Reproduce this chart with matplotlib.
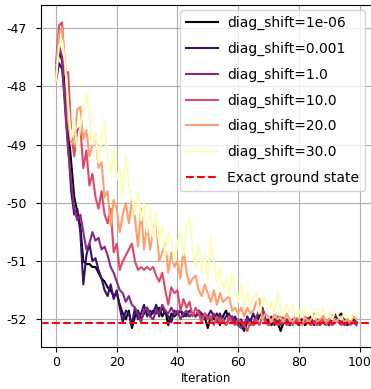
import numpy as np
import matplotlib.pyplot as plt

plt.rcParams["axes.unicode_minus"] = False

# energy per iteration for each diag_shift value
shifts = ["1e-06", "0.001", "1.0", "10.0", "20.0", "30.0"]

e_1e06 = [-47.8, -47.4, -47.55, -48.0, -48.7, -49.3, -49.9, -50.15, -50.4, -51.0,
          -51.05, -51.05, -51.1, -51.1, -51.2, -51.3, -51.35, -51.45, -51.5, -51.6,
          -51.55, -51.75, -51.9, -52.0, -51.85, -52.15, -51.95, -51.85, -52.0, -51.9,
          -51.8, -51.95, -51.85, -51.9, -51.8, -51.95, -51.85, -52.1, -51.9, -51.95,
          -51.9, -51.85, -51.95, -51.9, -51.95, -51.9, -51.95, -51.9, -52.0, -51.95,
          -52.15, -51.95, -52.0, -51.9, -52.1, -51.95, -51.85, -52.0, -51.95, -52.05,
          -52.0, -52.1, -52.2, -52.05, -52.0, -52.1, -52.05, -51.95, -51.85, -52.05,
          -52.0, -52.1, -52.0, -52.05, -52.2, -52.05, -52.0, -52.1, -52.05, -51.95,
          -52.05, -52.0, -52.1, -52.05, -51.95, -52.05, -52.1, -52.0, -52.05, -52.1,
          -52.0, -51.95, -51.9, -51.95, -51.9, -52.05, -52.1, -52.0, -52.05, -52.05]

e_0001 = [-47.9, -47.6, -47.7, -48.3, -49.0, -49.8, -50.2, -50.1, -50.5, -51.4,
          -50.9, -50.7, -51.0, -50.95, -51.15, -51.3, -51.5, -51.6, -51.4, -51.65,
          -51.5, -51.8, -52.05, -51.85, -51.9, -52.1, -51.8, -52.0, -51.9, -51.75,
          -51.95, -51.85, -51.9, -51.75, -51.95, -51.8, -51.9, -51.95, -52.05, -51.85,
          -51.9, -51.85, -51.9, -51.95, -51.85, -51.9, -51.95, -51.85, -51.9, -52.0,
          -51.95, -51.85, -51.95, -52.0, -51.9, -52.05, -51.95, -51.9, -52.05, -51.95,
          -52.1, -52.0, -52.15, -51.95, -52.05, -51.9, -52.05, -51.85, -51.8, -52.0,
          -52.05, -51.95, -52.1, -52.0, -52.05, -51.95, -52.05, -52.1, -52.0, -52.05,
          -52.1, -52.0, -52.05, -51.95, -52.0, -52.1, -52.0, -52.05, -51.95, -52.05,
          -52.1, -52.0, -51.95, -52.0, -52.05, -52.0, -52.1, -52.05, -52.0, -52.05]

e_1 = [-47.7, -47.3, -47.5, -48.4, -49.1, -49.6, -50.1, -50.3, -50.2, -50.5,
       -50.8, -50.7, -50.5, -50.65, -50.6, -50.8, -50.75, -50.9, -51.1, -51.2,
       -51.35, -51.5, -51.55, -51.7, -51.6, -51.75, -51.8, -51.9, -52.05, -51.85,
       -51.8, -51.95, -52.0, -51.85, -51.9, -51.75, -51.85, -51.9, -51.8, -51.9,
       -51.85, -52.0, -51.9, -51.85, -51.95, -51.9, -51.95, -51.85, -52.0, -51.9,
       -51.95, -52.0, -51.9, -52.05, -51.95, -52.0, -52.1, -52.0, -51.95, -52.05,
       -52.1, -52.15, -52.05, -52.0, -52.1, -52.05, -51.95, -51.85, -51.8, -52.0,
       -52.1, -52.0, -52.05, -51.95, -52.1, -52.05, -52.0, -52.1, -52.05, -52.0,
       -52.05, -52.1, -52.0, -52.05, -52.1, -52.0, -52.05, -52.1, -52.0, -52.05,
       -52.0, -52.1, -52.05, -52.0, -52.05, -52.1, -52.05, -52.0, -52.05, -52.1]

e_10 = [-47.6, -46.95, -46.9, -47.8, -47.75, -48.8, -49.2, -48.75, -48.7, -49.4,
        -49.1, -49.7, -49.5, -49.9, -50.1, -49.8, -50.2, -50.35, -50.1, -50.85,
        -50.7, -51.15, -51.0, -50.9, -50.8, -50.7, -51.0, -51.15, -51.1, -51.15,
        -51.1, -51.15, -51.1, -51.25, -51.35, -51.2, -51.5, -51.75, -51.45, -51.55,
        -51.5, -51.85, -51.65, -51.8, -51.7, -51.95, -51.8, -51.9, -52.05, -51.9,
        -52.0, -51.95, -52.1, -51.95, -52.05, -52.0, -52.1, -51.95, -52.05, -52.1,
        -52.0, -52.05, -52.1, -52.2, -52.05, -52.1, -52.0, -52.1, -51.95, -52.05,
        -52.1, -52.0, -52.05, -52.1, -52.05, -52.0, -52.1, -52.05, -52.1, -52.0,
        -52.05, -52.1, -52.05, -52.0, -52.1, -52.05, -52.1, -52.05, -52.0, -52.1,
        -52.05, -52.1, -52.0, -52.05, -52.1, -52.05, -52.0, -52.1, -52.05, -52.05]

e_20 = [-47.8, -47.1, -47.0, -47.6, -48.6, -49.0, -48.9, -48.4, -48.35, -48.9,
        -48.75, -49.2, -49.0, -48.8, -49.4, -49.3, -49.9, -49.8, -50.4, -49.95,
        -50.1, -50.5, -50.2, -50.0, -50.35, -49.95, -50.25, -50.75, -50.1, -50.8,
        -50.35, -50.8, -50.5, -50.25, -51.0, -50.85, -50.7, -51.2, -50.85, -51.1,
        -51.0, -51.3, -50.8, -51.2, -51.4, -51.3, -51.25, -51.5, -51.6, -51.4,
        -51.55, -51.7, -51.5, -51.75, -51.55, -51.7, -51.65, -51.6, -51.85, -51.8,
        -51.9, -51.8, -51.95, -51.8, -51.9, -51.85, -51.7, -51.65, -52.0, -51.9,
        -51.95, -52.05, -51.9, -52.0, -51.95, -52.05, -51.9, -52.0, -52.05, -51.95,
        -52.0, -52.1, -51.95, -52.05, -52.0, -51.9, -52.05, -52.0, -51.95, -52.05,
        -52.0, -51.95, -52.05, -52.0, -51.95, -52.05, -52.0, -52.05, -51.95, -52.0]

e_30 = [-47.9, -47.3, -47.2, -47.6, -48.3, -48.9, -48.6, -49.1, -48.7, -48.4,
        -48.1, -48.5, -49.0, -48.8, -49.3, -48.9, -48.6, -49.2, -49.5, -49.1,
        -49.6, -49.4, -49.9, -49.2, -49.7, -49.9, -50.2, -49.8, -50.3, -50.0,
        -50.5, -50.1, -50.6, -50.2, -50.7, -50.4, -50.9, -50.5, -50.65, -51.0,
        -50.7, -50.5, -50.9, -50.4, -50.25, -50.8, -51.1, -50.7, -51.2, -50.9,
        -51.3, -50.6, -51.0, -51.35, -51.1, -51.5, -51.3, -51.6, -51.2, -51.5,
        -51.7, -51.4, -51.8, -51.5, -51.75, -51.6, -51.55, -51.9, -51.7, -51.6,
        -51.85, -51.7, -51.9, -51.55, -51.8, -51.95, -51.75, -51.9, -51.75, -51.95,
        -51.85, -51.95, -51.8, -51.95, -51.9, -52.0, -51.85, -51.95, -51.8, -51.95,
        -51.9, -52.0, -51.85, -51.95, -52.0, -51.9, -51.95, -52.0, -51.9, -51.95]

exact_energy = -52.07

energies = [e_1e06, e_0001, e_1, e_10, e_20, e_30]
colors = plt.cm.magma(np.linspace(0, 1, len(shifts)))

fig = plt.figure(figsize=(3.71, 3.89), dpi=100)
ax = fig.add_axes([41 / 371, 42.3 / 389, 330.5 / 371, 341.7 / 389])

for s, e, c in zip(shifts, energies, colors):
    ax.plot(np.arange(len(e)), e, color=c, label=f"diag_shift={s}")
ax.axhline(exact_energy, color="r", linestyle="--", label="Exact ground state")

ax.set_ylim(-52.47, -46.6)
ax.set_xticks([0, 20, 40, 60, 80, 100])
ax.set_yticks([-52, -51, -50, -49, -48, -47])
ax.tick_params(labelsize=9)
ax.tick_params(axis="y", pad=7)
ax.set_xlabel("Iteration", fontsize=8.5, labelpad=2)
ax.grid(True)
ax.legend(loc="upper right", fontsize=10, labelspacing=0.85, handlelength=2.3,
          handletextpad=0.7, borderaxespad=0,
          bbox_to_anchor=(365 / 371, 1 - 10 / 389), bbox_transform=fig.transFigure)

fig.savefig("out.png", dpi=100)
